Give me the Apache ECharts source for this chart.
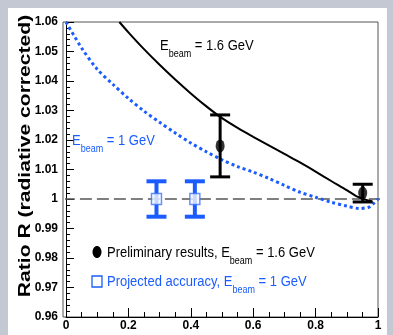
<!DOCTYPE html>
<html><head><meta charset="utf-8">
<script src="https://cdn.jsdelivr.net/npm/echarts@6/dist/echarts.min.js"></script>
<style>html,body{margin:0;padding:0;background:#c4c8d2;} #c{width:393px;height:335px;}</style>
</head><body><div id="c"></div>
<script>
// Theory curve, E_beam = 1.6 GeV (solid black)
const curve16X = [0.171, 0.2, 0.25, 0.3, 0.35, 0.4, 0.45, 0.5, 0.55, 0.6, 0.65, 0.7, 0.75, 0.8, 0.85, 0.9, 0.93, 0.96, 0.98];
const curve16Y = [1.0600, 1.0565, 1.0508, 1.0455, 1.0405, 1.0358, 1.0314, 1.0274, 1.0241, 1.0211, 1.0182, 1.0153, 1.0124, 1.0093, 1.0061, 1.0030, 1.0010, 0.9998, 0.9993];
// Theory curve, E_beam = 1 GeV (dotted blue)
const curve10X = [0, 0.05, 0.1, 0.15, 0.2, 0.25, 0.3, 0.35, 0.4, 0.45, 0.5, 0.55, 0.6, 0.65, 0.7, 0.75, 0.8, 0.85, 0.9, 0.94, 0.97, 0.985, 1.0];
const curve10Y = [1.0600, 1.0512, 1.0440, 1.0389, 1.0341, 1.0298, 1.0260, 1.0224, 1.0190, 1.0160, 1.0133, 1.0110, 1.0091, 1.0070, 1.0046, 1.0023, 1.0006, 0.9989, 0.9976, 0.9968, 0.9972, 0.9984, 1.0000];
// Preliminary results (black)
const prelimX = [0.494, 0.951];
const prelimY = [1.018, 1.002];
const prelimErr = [0.0105, 0.003];
// Projected accuracy (blue)
const projX = [0.29, 0.413];
const projY = [1.0, 1.0];
const projErr = [0.006, 0.006];
// reference level
const refLevel = 1;
// tick labels
const xTickLabels = ['0', '0.2', '0.4', '0.6', '0.8', '1'];
const yTickLabels = ['0.96', '0.97', '0.98', '0.99', '1', '1.01', '1.02', '1.03', '1.04', '1.05', '1.06'];

const BLUE = '#1a5cff';
const zip = (xs, ys) => xs.map((x, i) => [x, ys[i]]);
const zip3 = (xs, ys, es) => xs.map((x, i) => [x, ys[i], es[i]]);

function errRender(color, lw, capHalf) {
  return function (params, api) {
    const x = api.value(0), y = api.value(1), e = api.value(2);
    const t = api.coord([x, y + e]);
    const b = api.coord([x, y - e]);
    const st = {stroke: color, lineWidth: lw};
    return {type: 'group', children: [
      {type: 'line', shape: {x1: t[0], y1: t[1], x2: b[0], y2: b[1]}, style: st},
      {type: 'line', shape: {x1: t[0] - capHalf, y1: t[1], x2: t[0] + capHalf, y2: t[1]}, style: st},
      {type: 'line', shape: {x1: b[0] - capHalf, y1: b[1], x2: b[0] + capHalf, y2: b[1]}, style: st}
    ]};
  };
}

const tickFont = {fontFamily: '"Liberation Sans Narrow", "Liberation Sans", Arial', fontWeight: 'bold', fontSize: 12, color: '#000'};

function eText(x, y, pre, post, color) {
  const m = {fontSize: 13, fontFamily: '"Liberation Sans", Arial', fill: color, color: color};
  const s = {fontSize: 9, fontFamily: '"Liberation Sans", Arial', fill: color, color: color, padding: [15, 0, 0, 0]};
  return {type: 'text', x: x, y: y, scaleY: 1.15, z: 50,
    style: {text: '{m|' + pre + 'E}{s|beam}{m| = ' + post + '}', rich: {m: m, s: s},
      fill: color, textAlign: 'left', textVerticalAlign: 'middle', align: 'left', verticalAlign: 'middle'}};
}

const chart = echarts.init(document.getElementById('c'), null, {renderer: 'canvas'});
chart.setOption({
  backgroundColor: 'transparent',
  animation: false,
  grid: {left: 66, right: 15, top: 22, bottom: 18},
  xAxis: {
    type: 'value', min: 0, max: 1, interval: 0.2,
    axisLine: {lineStyle: {color: '#000', width: 1}},
    axisTick: {inside: true, length: 9, lineStyle: {color: '#000'}},
    minorTick: {show: true, splitNumber: 4, length: 5, lineStyle: {color: '#000'}},
    splitLine: {show: false},
    axisLabel: Object.assign({margin: 3, formatter: v => xTickLabels[Math.round(v / 0.2)] ?? ''}, tickFont)
  },
  yAxis: {
    type: 'value', min: 0.96, max: 1.06, interval: 0.01, offset: 3,
    axisLine: {show: true, lineStyle: {color: '#000', width: 1}},
    axisTick: {show: true, inside: true, length: 8, lineStyle: {color: '#000'}},
    minorTick: {show: true, splitNumber: 5, length: 4, lineStyle: {color: '#000'}},
    splitLine: {show: false},
    axisLabel: Object.assign({margin: 5, formatter: v => yTickLabels[Math.round((v - 0.96) / 0.01)] ?? ''}, tickFont)
  },
  graphic: [
    {type: 'rect', z: -100, shape: {x: 8, y: 8, width: 379, height: 340}, style: {fill: '#ffffff'}},
    {type: 'rect', z: -50, shape: {x: 63, y: 22, width: 315, height: 295}, style: {fill: 'none', stroke: '#555', lineWidth: 1}},
    {type: 'text', x: 25, y: 156, rotation: Math.PI / 2, scaleX: 1.24, z: 50,
      style: {text: 'Ratio R (radiative corrected)', font: 'bold 17px "Liberation Sans", Arial', fill: '#000',
        textAlign: 'center', textVerticalAlign: 'middle', align: 'center', verticalAlign: 'middle'}},
    eText(160, 46, '', '1.6 GeV', '#000'),
    eText(72, 141, '', '1 GeV', BLUE),
    {type: 'ellipse', z: 50, shape: {cx: 97, cy: 252, rx: 4.5, ry: 6}, style: {fill: '#000'}},
    eText(107, 252.5, 'Preliminary results, ', '1.6 GeV', '#000'),
    {type: 'rect', z: 50, shape: {x: 92, y: 276, width: 10, height: 11}, style: {fill: '#fff', stroke: BLUE, lineWidth: 1.3}},
    eText(107, 281.5, 'Projected accuracy, ', '1 GeV', BLUE)
  ],
  series: [
    {type: 'line', data: [[-0.01, refLevel], [1.04, refLevel]], clip: false, showSymbol: false, silent: true,
      lineStyle: {color: '#555', width: 1.3, type: [12, 5]}, z: 1},
    {type: 'line', data: zip(curve10X, curve10Y), showSymbol: false, smooth: 0.3,
      lineStyle: {color: BLUE, width: 3, type: [3, 3], cap: 'butt'}, z: 2},
    {type: 'line', data: zip(curve16X, curve16Y), showSymbol: false, smooth: 0.3,
      lineStyle: {color: '#000', width: 2}, z: 3},
    {type: 'custom', renderItem: errRender('#000', 3, 10), data: zip3(prelimX, prelimY, prelimErr), z: 4},
    {type: 'scatter', data: zip(prelimX, prelimY), symbol: 'circle', symbolSize: [9, 13], itemStyle: {color: '#000'}, z: 5},
    {type: 'custom', renderItem: errRender(BLUE, 4, 10), data: zip3(projX, projY, projErr), z: 4},
    {type: 'scatter', data: zip(projX, projY), symbol: 'rect', symbolSize: [10, 11],
      itemStyle: {color: '#f4f7ff', borderColor: '#3d72ff', borderWidth: 1.5}, z: 5}
  ]
});
</script></body></html>
